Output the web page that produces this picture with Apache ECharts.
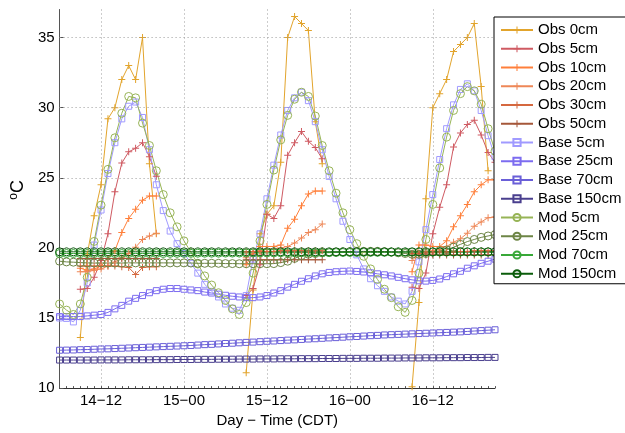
<!DOCTYPE html>
<html><head><meta charset="utf-8">
<script src="https://cdn.jsdelivr.net/npm/echarts@6/dist/echarts.min.js"></script>
<style>html,body{margin:0;padding:0;background:#fff}#c{width:625px;height:433px}</style>
</head><body><div id="c"></div>
<script>
const N = null;
// hourly categories from 14-06 to 16-21 (day-hour, CDT)
const times = [];
for (let k = 6; k <= 69; k++) { times.push((14 + Math.floor(k / 24)) + '\u2212' + String(k % 24).padStart(2, '0')); }
const xTickLabels = ['14\u221212', '15\u221200', '15\u221212', '16\u221200', '16\u221212'];
const yTicks = [10, 15, 20, 25, 30, 35];

const obs0 = [N,N,N, 13.6,19.5,22.3,24.5,29.2,30.0,32.0,33.0,32.0,35.0,26.0,21.0,
  N,N,N,N,N,N,N,N,N,N,N,N,
  11.1,17.0,21.0,22.4,23.0,26.1,35.0,36.5,36.0,35.5,29.0,26.0,
  N,N,N,N,N,N,N,N,N,N,N,N,
  10.1,16.1,23.5,30.0,31.0,32.0,34.0,34.5,35.0,36.0,31.5,25.5, N];
const obs5 = [N,N,N, 17.05,17.1,17.9,19.1,21.0,24.0,26.05,26.85,27.1,27.5,26.5,25.1,
  N,N,N,N,N,N,N,N,N,N,N,N,
  16.6,17.1,18.8,22.4,22.1,23.0,26.6,27.5,28.3,27.6,27.15,26.35,
  N,N,N,N,N,N,N,N,N,N,N,N,
  17.2,17.1,18.2,21.0,22.9,24.5,27.2,28.2,28.8,29.1,28.05,26.8, 26.1];
const obs10 = [N,N,N, 18.55,18.4,18.5,18.7,19.25,19.8,21.1,22.1,22.75,23.4,23.7,23.7,
  N,N,N,N,N,N,N,N,N,N,N,N,
  18.8,19.6,20.1,20.1,20.1,20.2,21.4,22.05,23.0,23.85,24.05,24.05,
  N,N,N,N,N,N,N,N,N,N,N,N,
  18.3,20.2,20.2,20.1,20.1,20.5,21.5,22.3,23.1,24.0,24.5,24.85, 24.85];
const obs20 = [N,N,N, 18.3,18.3,18.4,18.5,18.7,19.0,19.3,19.6,20.05,20.6,20.85,21.05,
  N,N,N,N,N,N,N,N,N,N,N,N,
  19.3,19.6,19.8,19.9,19.95,20.0,20.1,20.35,20.7,21.1,21.3,21.7,
  N,N,N,N,N,N,N,N,N,N,N,N,
  19.1,19.6,19.7,19.8,19.9,20.1,20.4,20.65,21.05,21.55,21.85,22.15, 22.2];
const obs30 = [N,N,N, 18.7,18.7,18.7,18.7,18.7,18.7,18.65,18.6,18.1,18.6,18.65,18.65,
  N,N,N,N,N,N,N,N,N,N,N,N,
  19.7,19.75,19.75,19.75,19.75,19.8,19.8,19.8,19.8,19.8,19.8,19.8,
  N,N,N,N,N,N,N,N,N,N,N,N,
  19.6,19.6,19.65,19.65,19.7,19.7,19.7,19.75,19.75,19.8,19.8,19.8, 19.8];
const obs50 = [N,N,N, 19.25,19.25,19.25,19.25,19.25,19.25,19.25,19.25,19.25,19.25,19.25,19.25,
  N,N,N,N,N,N,N,N,N,N,N,N,
  19.15,19.15,19.15,19.15,19.15,19.15,19.15,19.15,19.15,19.15,19.15,19.15,
  N,N,N,N,N,N,N,N,N,N,N,N,
  19.45,19.45,19.5,19.5,19.5,19.5,19.5,19.5,19.5,19.5,19.5,19.5, 19.5];

const base5 = [15.0,14.97,14.72,15.55,17.5,20.2,22.7,25.3,27.5,29.2,30.1,30.4,29.3,27.0,24.5,22.66,
  21.2,20.3,19.6,18.9,18.2,17.4,16.9,16.5,16.0,15.7,15.55,16.6,19.2,21.0,23.5,25.9,
  28.05,29.8,30.7,31.1,30.5,29.0,27.0,25.1,23.5,21.9,20.6,19.5,18.5,17.8,17.3,16.9,
  16.5,16.2,16.0,16.9,19.0,21.3,23.8,26.3,28.5,30.2,31.3,31.7,31.2,29.8,28.0,26.5];
const base25 = [15.1,15.1,15.1,15.1,15.15,15.2,15.25,15.4,15.65,15.9,16.2,16.4,16.6,16.8,16.95,17.05,
  17.1,17.1,17.05,17.0,16.95,16.85,16.78,16.7,16.62,16.55,16.5,16.45,16.45,16.5,16.6,16.78,
  16.95,17.2,17.4,17.62,17.8,18.0,18.15,18.25,18.3,18.33,18.35,18.32,18.28,18.22,18.15,18.08,
  18.0,17.9,17.8,17.72,17.65,17.63,17.68,17.78,17.95,18.15,18.33,18.55,18.72,18.9,19.05,19.2];
const base70 = [12.7,12.71,12.72,12.74,12.75,12.77,12.79,12.8,12.82,12.84,12.86,12.88,12.9,12.92,12.94,12.96,
  12.98,13.0,13.02,13.04,13.07,13.1,13.12,13.15,13.18,13.2,13.23,13.26,13.28,13.31,13.34,13.36,
  13.39,13.42,13.44,13.47,13.5,13.52,13.55,13.58,13.6,13.63,13.66,13.68,13.71,13.74,13.76,13.79,
  13.81,13.83,13.85,13.87,13.89,13.91,13.93,13.95,13.97,13.99,14.01,14.04,14.07,14.1,14.13,14.16];
const base150 = [12.0,12.0,12.0,12.0,12.0,12.0,12.01,12.01,12.01,12.01,12.02,12.02,12.02,12.02,12.03,12.03,
  12.03,12.04,12.04,12.04,12.05,12.05,12.05,12.06,12.06,12.06,12.07,12.07,12.07,12.08,12.08,12.08,
  12.09,12.09,12.09,12.1,12.1,12.1,12.11,12.11,12.11,12.12,12.12,12.12,12.13,12.13,12.13,12.14,
  12.14,12.14,12.15,12.15,12.15,12.16,12.16,12.16,12.17,12.17,12.17,12.18,12.18,12.18,12.19,12.19];

const mod5 = [16.0,15.56,15.25,16.0,17.9,20.46,23.05,25.6,27.85,29.6,30.8,30.7,28.9,27.3,25.5,23.8,
  22.5,21.5,20.5,19.7,18.85,18.0,17.35,16.8,16.25,15.65,15.25,16.1,18.2,20.5,23.1,25.55,
  27.7,29.45,30.6,31.1,30.8,29.4,27.3,25.5,23.9,22.5,21.3,20.3,19.4,18.5,17.75,17.05,
  16.45,15.8,15.4,16.25,18.2,20.6,23.1,25.7,27.9,29.8,31.0,31.5,31.2,30.25,28.5,26.9];
const mod25 = [19.05,19.0,18.98,18.95,18.93,18.92,18.92,18.92,18.92,18.92,18.93,18.93,18.93,18.93,18.93,18.93,
  18.93,18.93,18.93,18.92,18.9,18.9,18.9,18.9,18.88,18.88,18.87,18.87,18.87,18.87,18.87,18.88,
  18.95,19.05,19.25,19.45,19.55,19.6,19.65,19.68,19.7,19.72,19.73,19.75,19.75,19.75,19.75,19.73,
  19.7,19.65,19.6,19.55,19.55,19.6,19.7,19.8,19.85,20.05,20.25,20.45,20.6,20.75,20.85,20.95];
const mod70 = [19.6,19.6,19.6,19.6,19.6,19.6,19.6,19.6,19.6,19.6,19.6,19.6,19.6,19.6,19.6,19.6,
  19.61,19.61,19.61,19.61,19.62,19.62,19.62,19.62,19.63,19.63,19.63,19.63,19.64,19.64,19.64,19.64,
  19.65,19.65,19.65,19.65,19.66,19.66,19.66,19.66,19.67,19.67,19.67,19.67,19.68,19.68,19.68,19.68,
  19.69,19.69,19.69,19.69,19.7,19.7,19.7,19.7,19.7,19.7,19.7,19.7,19.7,19.7,19.7,19.7];
const mod150 = [19.72,19.72,19.72,19.72,19.72,19.72,19.72,19.72,19.72,19.72,19.72,19.72,19.72,19.72,19.72,19.72,
  19.72,19.72,19.72,19.72,19.72,19.72,19.72,19.72,19.72,19.72,19.72,19.72,19.72,19.72,19.72,19.72,
  19.72,19.72,19.72,19.72,19.72,19.72,19.72,19.72,19.72,19.72,19.72,19.72,19.72,19.72,19.72,19.72,
  19.72,19.72,19.72,19.72,19.72,19.72,19.72,19.72,19.72,19.72,19.72,19.72,19.72,19.72,19.72,19.72];

const PLUS = 'path://M3,0H4V3H7V4H4V7H3V4H0V3H3Z';
const seriesDefs = [
  ['Obs 0cm', obs0, '#E2A42C', 'plus'],
  ['Obs 5cm', obs5, '#CF5A62', 'plus'],
  ['Obs 10cm', obs10, '#FF7F3A', 'plus'],
  ['Obs 20cm', obs20, '#EE8757', 'plus'],
  ['Obs 30cm', obs30, '#D5683F', 'plus'],
  ['Obs 50cm', obs50, '#A5573A', 'plus'],
  ['Base 5cm', base5, '#A09AFF', 'rect'],
  ['Base 25cm', base25, '#7C6CF0', 'rect'],
  ['Base 70cm', base70, '#6A5FD8', 'rect'],
  ['Base 150cm', base150, '#4A3F8E', 'rect'],
  ['Mod 5cm', mod5, '#97B456', 'circle'],
  ['Mod 25cm', mod25, '#6D8545', 'circle'],
  ['Mod 70cm', mod70, '#38A838', 'circle'],
  ['Mod 150cm', mod150, '#0A5C0A', 'circle']
];

const series = seriesDefs.map(([name, data, c, m]) => {
  const s = {
    name, type: 'line', data, color: c,
    showAllSymbol: true, connectNulls: false,
    lineStyle: { color: c, width: 1 },
    emphasis: { disabled: true }
  };
  if (m === 'plus') {
    s.symbol = PLUS; s.symbolSize = 7;
    s.itemStyle = { color: c, borderWidth: 0 };
  } else if (m === 'rect') {
    s.symbol = 'rect'; s.symbolSize = 6;
    s.itemStyle = { color: 'rgba(0,0,0,0)', borderColor: c, borderWidth: 1 };
  } else {
    s.symbol = 'circle'; s.symbolSize = 8;
    s.itemStyle = { color: 'rgba(0,0,0,0)', borderColor: c, borderWidth: 1 };
  }
  return s;
});

// helper series carrying the horizontal dotted grid lines
series.unshift({
  name: 'grid', type: 'line', data: times.map(() => null), z: 1, silent: true,
  markLine: {
    silent: true, symbol: ['none', 'none'], label: { show: false },
    lineStyle: { color: '#9a9a9a', type: [1, 3], width: 1 },
    data: yTicks.filter(v => v > 10).map(v => ({ yAxis: v }))
  }
});

const chart = echarts.init(document.getElementById('c'), null, { renderer: 'canvas' });
chart.setOption({
  animation: false,
  backgroundColor: '#fff',
  textStyle: { fontFamily: 'Liberation Sans, Arial, sans-serif' },
  grid: { left: 54, right: 130, top: 9.5, bottom: 34.7 },
  xAxis: {
    type: 'category', data: times, boundaryGap: false,
    name: 'Day \u2212 Time (CDT)', nameLocation: 'middle', nameGap: 20,
    nameTextStyle: { fontSize: 15, color: '#000' },
    axisLine: { show: true, lineStyle: { color: '#333', width: 1 } },
    axisTick: { show: true, inside: true, interval: 0, length: 2, lineStyle: { color: '#555' } },
    axisLabel: { interval: (i, v) => xTickLabels.includes(v), fontSize: 15, color: '#000', margin: 5 },
    splitLine: { show: true, interval: (i, v) => xTickLabels.includes(v), lineStyle: { color: '#9a9a9a', type: [1, 3], width: 1 } }
  },
  yAxis: {
    type: 'value', min: 10, max: 37, interval: 5,
    name: '{s|o}{c|C}', nameLocation: 'middle', nameGap: 29, nameRotate: 90,
    nameTextStyle: { color: '#000', padding: [0, 0, 0, 18], rich: { s: { fontSize: 12, verticalAlign: 'top', lineHeight: 20 }, c: { fontSize: 18, lineHeight: 20 } } },
    axisLine: { show: true, lineStyle: { color: '#555', width: 1 } },
    axisTick: { show: true, inside: true, length: 4, customValues: yTicks, lineStyle: { color: '#555' } },
    axisLabel: { fontSize: 15, color: '#000', margin: 5, customValues: yTicks },
    splitLine: { show: false }
  },
  legend: {
    orient: 'vertical', left: 494, top: 17,
    padding: [5, 6, 2, 6], itemGap: 2.75, itemWidth: 32, itemHeight: 9,
    backgroundColor: '#fff', borderColor: '#000', borderWidth: 1, borderRadius: 0,
    textStyle: { fontSize: 15, color: '#000', lineHeight: 16 },
    data: seriesDefs.map(d => d[0]), selectedMode: false
  },
  series
});
</script></body></html>
